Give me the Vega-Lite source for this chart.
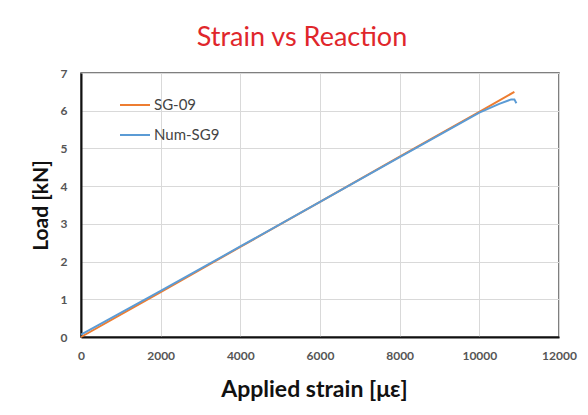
{
  "$schema": "https://vega.github.io/schema/vega-lite/v6.json",
  "width": 478,
  "height": 264,
  "autosize": {"type": "none"},
  "padding": {"left": 81, "top": 73, "right": 29, "bottom": 78},
  "background": "white",
  "config": {
    "font": "Lato",
    "view": {"stroke": "#555", "strokeWidth": 1.5}
  },
  "title": {
    "text": "Strain vs Reaction",
    "color": "#e0262b",
    "fontSize": 27,
    "fontWeight": "normal",
    "font": "Lato",
    "anchor": "middle",
    "offset": 15,
    "dx": -18
  },
  "data": {
    "values": [
      {"strain": 0, "load": 0.0, "series": "SG-09"},
      {"strain": 2000, "load": 1.19, "series": "SG-09"},
      {"strain": 4000, "load": 2.39, "series": "SG-09"},
      {"strain": 6000, "load": 3.58, "series": "SG-09"},
      {"strain": 8000, "load": 4.78, "series": "SG-09"},
      {"strain": 10000, "load": 5.97, "series": "SG-09"},
      {"strain": 10880, "load": 6.5, "series": "SG-09"},
      {"strain": 0, "load": 0.06, "series": "Num-SG9"},
      {"strain": 2000, "load": 1.22, "series": "Num-SG9"},
      {"strain": 4000, "load": 2.4, "series": "Num-SG9"},
      {"strain": 6000, "load": 3.58, "series": "Num-SG9"},
      {"strain": 8000, "load": 4.77, "series": "Num-SG9"},
      {"strain": 10000, "load": 5.95, "series": "Num-SG9"},
      {"strain": 10500, "load": 6.18, "series": "Num-SG9"},
      {"strain": 10800, "load": 6.3, "series": "Num-SG9"},
      {"strain": 10880, "load": 6.3, "series": "Num-SG9"},
      {"strain": 10930, "load": 6.2, "series": "Num-SG9"}
    ]
  },
  "mark": {"type": "line", "strokeWidth": 2},
  "encoding": {
    "x": {
      "field": "strain",
      "type": "quantitative",
      "scale": {"domain": [0, 12000], "nice": false},
      "axis": {
        "title": "Applied strain [\u03bc\u03b5]",
        "titleFontSize": 23,
        "titleFontWeight": "bold",
        "titleColor": "#111",
        "titlePadding": 17,
        "titleX": 233,
        "values": [0, 2000, 4000, 6000, 8000, 10000, 12000],
        "format": "d",
        "labelFontSize": 12,
        "labelFontWeight": "bold",
        "labelColor": "#555",
        "labelPadding": 13,
        "ticks": false,
        "domainColor": "#111",
        "domainWidth": 2,
        "gridColor": "#d9d9d9",
        "labelFlush": false
      }
    },
    "y": {
      "field": "load",
      "type": "quantitative",
      "scale": {"domain": [0, 7], "nice": false},
      "axis": {
        "title": "Load [kN]",
        "titleFontSize": 21,
        "titleFontWeight": "bold",
        "titleColor": "#111",
        "titlePadding": 9,
        "values": [0, 1, 2, 3, 4, 5, 6, 7],
        "labelFontSize": 12,
        "labelFontWeight": "bold",
        "labelColor": "#555",
        "labelPadding": 14,
        "ticks": false,
        "domainColor": "#111",
        "domainWidth": 2,
        "gridColor": "#d9d9d9"
      }
    },
    "color": {
      "field": "series",
      "type": "nominal",
      "scale": {"domain": ["SG-09", "Num-SG9"], "range": ["#ed7d31", "#5b9bd5"]},
      "legend": {
        "title": null,
        "orient": "none",
        "legendX": 38,
        "legendY": 16,
        "symbolType": "stroke",
        "symbolStrokeWidth": 2,
        "symbolSize": 900,
        "labelFontSize": 15,
        "labelColor": "#444",
        "rowPadding": 6,
        "labelOffset": 3
      }
    },
    "order": {"field": "strain", "type": "quantitative"}
  }
}
